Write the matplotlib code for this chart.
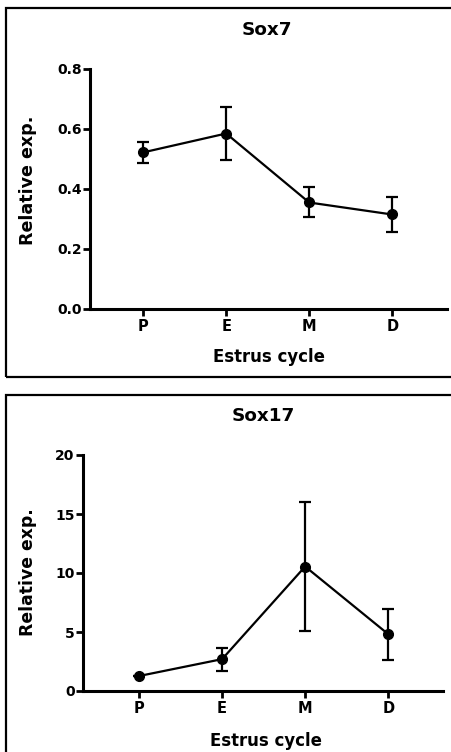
import matplotlib
matplotlib.use("Agg")
import matplotlib.pyplot as plt
from matplotlib.patches import Rectangle

plt.rcParams["font.family"] = ["DejaVu Sans"]
plt.rcParams["font.weight"] = "bold"

stages = ["P", "E", "M", "D"]

sox7_mean = [0.522, 0.585, 0.355, 0.315]
sox7_err = [0.036, 0.090, 0.050, 0.058]

sox17_mean = [1.27, 2.70, 10.55, 4.82]
sox17_err_low = [0.0, 0.98, 5.50, 2.20]
sox17_err_high = [0.0, 0.98, 5.45, 2.10]

W, H = 451, 752
fig = plt.figure(figsize=(W / 100, H / 100), dpi=100)


def fx(px):
    return px / W


def fy(py):
    return 1 - py / H


# panel frames
fig.patches.append(Rectangle((fx(6), fy(377)), 1.0, (377 - 8) / H, transform=fig.transFigure,
                             fill=False, ec="black", lw=1.6))
fig.patches.append(Rectangle((fx(6), -0.05), 1.0, (752 - 395) / H + 0.05, transform=fig.transFigure,
                             fill=False, ec="black", lw=1.6))


def style(ax):
    for s in ["top", "right"]:
        ax.spines[s].set_visible(False)
    for s in ["left", "bottom"]:
        ax.spines[s].set_linewidth(2.2)
    ax.tick_params(axis="both", direction="out", length=5, width=2, pad=1)
    ax.tick_params(axis="y", labelsize=10)
    ax.tick_params(axis="x", labelsize=10.5, pad=2)
    for lab in ax.get_xticklabels() + ax.get_yticklabels():
        lab.set_fontweight("bold")


x = [1, 2, 3, 4]
eb = dict(color="black", lw=1.6, marker="o", ms=7, capsize=4, elinewidth=1.6, capthick=1.6, clip_on=False)

# top panel
ax1 = fig.add_axes([fx(90), fy(309), fx(447) - fx(90), fy(69) - fy(309)])
ax1.errorbar(x, sox7_mean, yerr=sox7_err, **eb)
ax1.set_xlim(0.36, 4.66)
ax1.set_ylim(0, 0.8)
ax1.set_yticks([0.0, 0.2, 0.4, 0.6, 0.8])
ax1.set_yticklabels(["0.0", "0.2", "0.4", "0.6", "0.8"])
ax1.set_xticks(x)
ax1.set_xticklabels(stages)
style(ax1)
fig.text(fx(267), fy(30), "Sox7", ha="center", va="center", fontsize=13.2, fontweight="bold")
fig.text(fx(269), fy(357), "Estrus cycle", ha="center", va="center", fontsize=11.9, fontweight="bold")
fig.text(fx(28), fy(180), "Relative exp.", ha="center", va="center", rotation=90, fontsize=12.6,
         fontweight="bold")

# bottom panel
ax2 = fig.add_axes([fx(83), fy(691), fx(443) - fx(83), fy(455) - fy(691)])
ax2.errorbar(x, sox17_mean, yerr=[sox17_err_low, sox17_err_high], **eb)
ax2.set_xlim(0.325, 4.66)
ax2.set_ylim(0, 20)
ax2.set_yticks([0, 5, 10, 15, 20])
ax2.set_xticks(x)
ax2.set_xticklabels(stages)
style(ax2)
fig.text(fx(263), fy(416), "Sox17", ha="center", va="center", fontsize=13.2, fontweight="bold")
fig.text(fx(266), fy(741), "Estrus cycle", ha="center", va="center", fontsize=11.9, fontweight="bold")
fig.text(fx(28), fy(572), "Relative exp.", ha="center", va="center", rotation=90, fontsize=12.4,
         fontweight="bold")

fig.savefig("out.png", dpi=100)
